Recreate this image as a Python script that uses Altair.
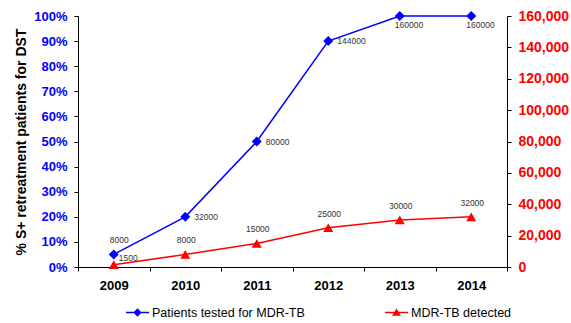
import altair as alt
import pandas as pd

years = ["2009", "2010", "2011", "2012", "2013", "2014"]
tested = [8000, 32000, 80000, 144000, 160000, 160000]
detected = [1500, 8000, 15000, 25000, 30000, 32000]
series_names = ["Patients tested for MDR-TB", "MDR-TB detected"]
series_colors = ["#0000FF", "#FF0000"]
left_tick_values = [0, 16000, 32000, 48000, 64000, 80000, 96000, 112000, 128000, 144000, 160000]
right_tick_values = [0, 20000, 40000, 60000, 80000, 100000, 120000, 140000, 160000]
y_max = 160000

# label groups (which side the data label sits on)
blue_above = ["2009"]
blue_right = ["2010", "2011", "2012"]
blue_below = ["2013", "2014"]
red_right = ["2009"]
red_above = ["2010", "2011", "2012", "2013", "2014"]

FONT = "Liberation Sans"
BLUE, RED = series_colors

df = pd.DataFrame({"year": years, "tested": tested, "detected": detected})
legend_df = pd.DataFrame({"series": series_names})

x_enc = alt.X(
    "year:N",
    sort=years,
    scale=alt.Scale(type="band", paddingInner=0, paddingOuter=0),
    axis=alt.Axis(
        title=None, labelAngle=0, tickBand="extent", labelFont=FONT, labelFontSize=13,
        labelFontWeight="bold", labelColor="black", labelPadding=8, tickSize=4,
        domainColor="black", tickColor="black", grid=False,
    ),
)

y_left = alt.Y(
    "tested:Q",
    scale=alt.Scale(domain=[0, y_max], nice=False, zero=True),
    axis=alt.Axis(
        orient="left", values=left_tick_values,
        labelExpr="format(datum.value / 160000, '.0%')",
        title="% S+ retreatment patients for DST", titleFont=FONT, titleFontSize=14,
        titleFontWeight="bold", titleColor="black", titlePadding=5,
        labelFont=FONT, labelFontSize=13, labelFontWeight="bold", labelColor=BLUE,
        labelPadding=7, tickSize=4, domainColor="black", tickColor="black", grid=False,
    ),
)

y_right = alt.Y(
    "detected:Q",
    scale=alt.Scale(domain=[0, y_max], nice=False, zero=True),
    axis=alt.Axis(
        orient="right", values=right_tick_values, format=",.0f", title=None,
        labelFont=FONT, labelFontSize=14, labelFontWeight="bold", labelColor=RED,
        labelPadding=7, tickSize=4, domainColor="black", tickColor="black", grid=False,
    ),
)

base = alt.Chart(df)

blue_line = base.mark_line(color=BLUE, strokeWidth=1.5).encode(x=x_enc, y=y_left)
blue_pts = base.mark_point(shape="diamond", filled=True, color=BLUE, size=100, opacity=1).encode(x=x_enc, y=y_left)

def lbl(field, ys, y_enc, align, dx, dy):
    return base.transform_filter(alt.FieldOneOfPredicate(field="year", oneOf=ys)).mark_text(
        font=FONT, fontSize=8.5, color="#333333", align=align, baseline="middle", dx=dx, dy=dy
    ).encode(x=x_enc, y=y_enc, text=alt.Text(f"{field}:Q", format="d"))

left = alt.layer(
    blue_line, blue_pts,
    lbl("tested", blue_above, y_left, "left", -4, -14),
    lbl("tested", blue_right, y_left, "left", 9, 0),
    lbl("tested", blue_below, y_left, "left", -5, 9),
)

red_line = base.mark_line(color=RED, strokeWidth=1.5).encode(x=x_enc, y=y_right)
red_pts = base.mark_point(shape="triangle-up", filled=True, color=RED, size=100, opacity=1).encode(x=x_enc, y=y_right)

legend_paths = [
    "M-1,-0.065L1,-0.065L1,0.065L-1,0.065Z M0,-0.36L0.36,0L0,0.36L-0.36,0Z",
    "M-1,-0.065L1,-0.065L1,0.065L-1,0.065Z M0,-0.34L0.39,0.28L-0.39,0.28Z",
]

legend_props = dict(
    title=None, orient="none", direction="horizontal", legendX=48, legendY=285,
    labelFont=FONT, labelFontSize=12.5, labelColor="black", labelOffset=3,
    columnPadding=80, symbolSize=529, symbolStrokeWidth=0, padding=0,
    symbolOpacity=1,
)

legend_layer = alt.Chart(legend_df).transform_filter("false").mark_point(
    filled=True, size=529, opacity=1, strokeWidth=0
).encode(
    color=alt.Color(
        "series:N",
        scale=alt.Scale(domain=series_names, range=series_colors),
        legend=alt.Legend(**legend_props),
    ),
    shape=alt.Shape(
        "series:N",
        scale=alt.Scale(domain=series_names, range=legend_paths),
        legend=alt.Legend(**legend_props),
    ),
)

right = alt.layer(
    red_line, red_pts,
    lbl("detected", red_right, y_right, "left", 5, -7),
    lbl("detected", red_above, y_right, "center", 1, -14),
    legend_layer,
)

chart = alt.layer(left, right).resolve_scale(y="independent").properties(
    width=429, height=251,
    autosize=alt.AutoSizeParams(type="none"),
    padding={"left": 78, "top": 16, "right": 64, "bottom": 56},
    background="white",
).configure_view(stroke=None)

chart.save("out.html", embed_options={"renderer": "svg", "actions": False})
